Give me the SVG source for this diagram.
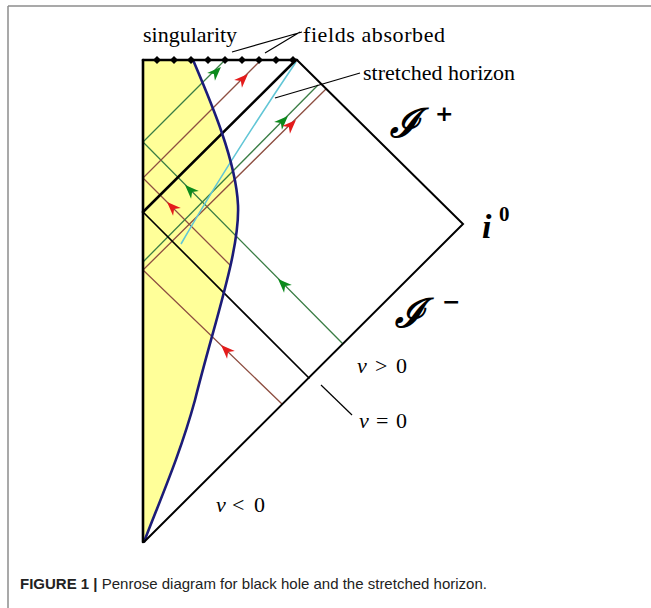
<svg xmlns="http://www.w3.org/2000/svg" width="651" height="608" viewBox="0 0 651 608">
<style>
.frame{stroke:#8c8c8c;stroke-width:1.5;fill:none}
.bd{stroke:#000;fill:none;stroke-linecap:round}
.g{stroke:#3a7d45;stroke-width:1.3;fill:none}
.b{stroke:#8e4f42;stroke-width:1.3;fill:none}
.ag{fill:#0c8a1c}
.ar{fill:#e41b1b}
.lead{stroke:#000;stroke-width:1.2;fill:none}
.t{font-family:"Liberation Serif","Times New Roman",serif;font-size:22px;fill:#000}
.nu{font-family:"Liberation Serif","Times New Roman",serif;font-size:22px;fill:#000}
.scri{font-family:"DejaVu Serif",serif;font-style:italic;font-weight:bold;font-size:40px;fill:#000}
.cap{font-family:"Liberation Sans",Arial,sans-serif;font-size:15px;fill:#222}
</style>
<defs>
<path id="ah" d="M7,0 L-7,-5.5 L-3,0 L-7,5.5 Z"/>
<polygon id="bump" points="-4,60 0,56 4,60 0,64"/>
</defs>
<rect width="651" height="608" fill="#fff"/>
<g id="frame">
<line class="frame" x1="8" y1="6" x2="651" y2="6"/>
<line class="frame" x1="8" y1="6" x2="8" y2="608"/>
</g>
<g id="matter">
<path d="M143,60 L193,60 C210,100 236,160 238,205 C240,250 215,320 195,400 C180,455 160,500 144,542 L143,542 Z" fill="#ffff99"/>
</g>
<g id="connectors">
<path class="g" d="M343,344 L143,142 L225,60"/>
<path class="b" d="M231,266 L143,178 L261,60"/>
<path class="b" d="M282,404 L143,270 L326,89"/>
<path class="g" d="M143,262 L318,85"/>
<path d="M181,244 C200,211 240,145 296,62" stroke="#62c6d6" stroke-width="1.6" fill="none"/>
<path class="bd" stroke-width="1.6" d="M309,378 L143,212"/>
<path class="bd" stroke-width="2.6" d="M143,212 L296,60"/>
<path d="M193,60 C210,100 236,160 238,205 C240,250 215,320 195,400 C180,455 160,500 144,542" stroke="#1c1c78" stroke-width="2.6" fill="none"/>
<use href="#ah" class="ag" transform="translate(216,72) rotate(-45)"/>
<use href="#ah" class="ar" transform="translate(243,79) rotate(-45)"/>
<use href="#ah" class="ag" transform="translate(283,121) rotate(-45)"/>
<use href="#ah" class="ar" transform="translate(291,125) rotate(-45)"/>
<use href="#ah" class="ag" transform="translate(190,190) rotate(-135)"/>
<use href="#ah" class="ag" transform="translate(283,284) rotate(-135)"/>
<use href="#ah" class="ar" transform="translate(172,207) rotate(-135)"/>
<use href="#ah" class="ar" transform="translate(226,350) rotate(-135)"/>
</g>
<g id="boundary">
<path class="bd" stroke-width="2.6" d="M143,60 L143,542"/>
<path class="bd" stroke-width="2" d="M297,60 L463,224 L144,542"/>
<path class="bd" stroke-width="2.6" d="M143,60 L297,60"/>
<g id="singularity-bumps">
<use href="#bump" x="157"/><use href="#bump" x="174"/><use href="#bump" x="191"/><use href="#bump" x="208"/><use href="#bump" x="225"/><use href="#bump" x="242"/><use href="#bump" x="259"/><use href="#bump" x="276"/><use href="#bump" x="293"/>
</g>
</g>
<g id="labels">
<text class="t" x="143" y="42">singularity</text>
<text class="t" x="303" y="42" textLength="142">fields absorbed</text>
<path class="lead" d="M302,32 L232,52 M300,32 L265,53"/>
<text class="t" x="363" y="80">stretched horizon</text>
<path class="lead" d="M275,98 L360,73"/>
<text class="scri" x="390" y="137">ℐ</text>
<text x="435" y="121" font-family="DejaVu Sans,sans-serif" font-size="22" font-weight="bold">+</text>
<text x="482" y="238" font-family="Liberation Serif,serif" font-size="34" font-weight="bold" font-style="italic">i</text>
<text x="499" y="221" font-family="Liberation Serif,serif" font-size="21" font-weight="bold">0</text>
<text class="scri" x="395" y="327">ℐ</text>
<text x="442" y="309" font-family="DejaVu Sans,sans-serif" font-size="22" font-weight="bold">−</text>
<text class="nu" y="373"><tspan x="357" font-style="italic">ν</tspan><tspan x="375">&gt;</tspan><tspan x="396">0</tspan></text>
<path class="lead" d="M321,385 L352,415"/>
<text class="nu" y="428"><tspan x="359" font-style="italic">ν</tspan><tspan x="376">=</tspan><tspan x="396">0</tspan></text>
<text class="nu" y="512"><tspan x="216" font-style="italic">ν</tspan><tspan x="232">&lt;</tspan><tspan x="254">0</tspan></text>
</g>
<g id="caption">
<text class="cap" x="20" y="589"><tspan font-weight="bold">FIGURE 1 |</tspan> Penrose diagram for black hole and the stretched horizon.</text>
</g>
</svg>
